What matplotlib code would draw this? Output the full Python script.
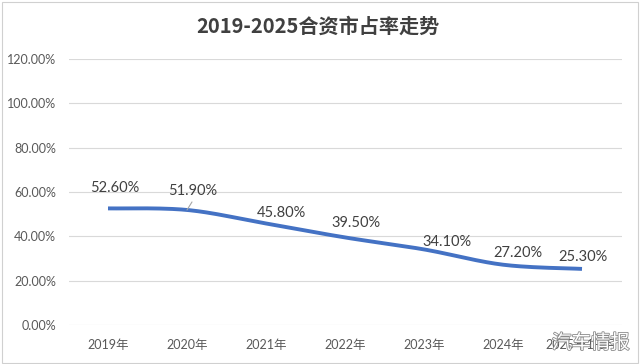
import numpy as np
import matplotlib
matplotlib.use("Agg")
import matplotlib.pyplot as plt
from matplotlib.patches import Rectangle
import matplotlib.patheffects as pe

plt.rcParams['font.family'] = ['Lato', 'Noto Sans CJK SC', 'DejaVu Sans']

categories = ["2019年", "2020年", "2021年", "2022年", "2023年", "2024年", "2025年1-5月"]
share = [52.6, 51.9, 45.8, 39.5, 34.1, 27.2, 25.3]
value_labels = ["52.60%", "51.90%", "45.80%", "39.50%", "34.10%", "27.20%", "25.30%"]
y_ticks = [0, 20, 40, 60, 80, 100, 120]
y_tick_labels = ["0.00%", "20.00%", "40.00%", "60.00%", "80.00%", "100.00%", "120.00%"]
title = "2019-2025合资市占率走势"

W, H = 640, 364
fig = plt.figure(figsize=(W / 100, H / 100), dpi=100)
fig.patch.set_facecolor("white")
fig.patches.append(Rectangle((2 / W, 1 / H), 636 / W, 361 / H, transform=fig.transFigure,
                             fill=False, edgecolor="#D0D0D0", lw=0.8))

ax = fig.add_axes([68.5 / W, 1 - 325 / H, 553 / W, (325 - 59) / H])
ax.set_xlim(-0.5, len(categories) - 0.5)
ax.set_ylim(0, 120)
for s in ax.spines.values():
    s.set_visible(False)
ax.set_yticks(y_ticks)
ax.set_yticklabels(y_tick_labels, fontsize=9, color="#595959")
ax.set_xticks(range(len(categories)))
ax.set_xticklabels(categories, fontsize=9, color="#595959")
ax.tick_params(length=0, pad=9)
ax.tick_params(axis="x", pad=10)
ax.grid(axis="y", color="#D9D9D9", lw=0.8)
ax.set_axisbelow(True)

# Catmull-Rom smoothing (like Excel smoothed line)
x = np.arange(len(share), dtype=float)
y = np.array(share, dtype=float)
px = np.concatenate([[x[0]], x, [x[-1]]])
py = np.concatenate([[y[0]], y, [y[-1]]])
xs, ys = [], []
t = np.linspace(0, 1, 30)
for i in range(1, len(px) - 2):
    p0, p1, p2, p3 = [np.array([px[j], py[j]]) for j in (i - 1, i, i + 1, i + 2)]
    c1 = p1 + (p2 - p0) / 6
    c2 = p2 - (p3 - p1) / 6
    pts = ((1 - t) ** 3)[:, None] * p1 + (3 * (1 - t) ** 2 * t)[:, None] * c1 + \
          (3 * (1 - t) * t ** 2)[:, None] * c2 + (t ** 3)[:, None] * p2
    xs.extend(pts[:, 0]); ys.extend(pts[:, 1])
ax.plot(xs, ys, color="#4472C4", lw=2.8, solid_capstyle="butt", zorder=3)

offsets = [(7, 20), (6, 19), (15, 10.5), (11, 14), (23, 7), (15, 12), (1, 12)]
for i, (lab, (dx, dy)) in enumerate(zip(value_labels, offsets)):
    ax.annotate(lab, (i, share[i]), xytext=(dx, dy), textcoords="offset pixels",
                ha="center", va="center", fontsize=10.5, color="#404040", zorder=4)
# leader line for 2020 label
ax.annotate("", (1, share[1]), xytext=(5, 8), textcoords="offset pixels",
            arrowprops=dict(arrowstyle="-", color="#A6A6A6", lw=0.8, shrinkA=0, shrinkB=0))

fig.text(318 / W, 1 - 26 / H, title, ha="center", va="center", fontsize=14.5,
         fontweight="bold", color="#404040", family=["Noto Sans CJK SC", "DejaVu Sans"])

fig.text(591 / W, 1 - 343 / H, "汽车情报", ha="center", va="center", fontsize=14,
         color="white", family=["Noto Sans CJK SC"],
         path_effects=[pe.withStroke(linewidth=1.2, foreground="#8A8A8A")], zorder=10)

fig.savefig("out.png", dpi=100, facecolor="white")
